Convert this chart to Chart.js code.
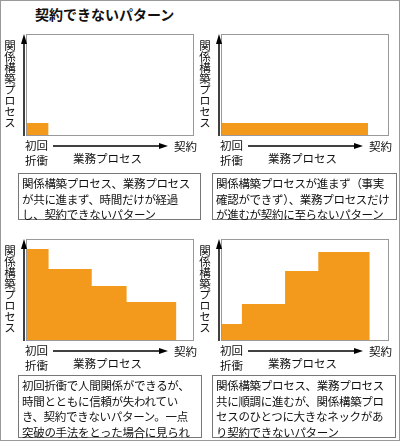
<!DOCTYPE html><html><head><meta charset="utf-8">
<script src="https://cdn.jsdelivr.net/npm/chart.js"></script>
<style>
body{margin:0;background:#fff;font-family:"Noto Sans CJK JP",sans-serif;color:#111}
#frame{position:absolute;left:0;top:0;width:398px;height:439px;border:1px solid #999}
.a{position:absolute}
.plot{position:absolute;border:1px solid #999;box-sizing:border-box}
.vt{position:absolute;writing-mode:vertical-rl;font-size:11.5px;line-height:14px;letter-spacing:-0.5px}
.box{position:absolute;border:1px solid #777;font-size:11.5px;line-height:15.5px;padding:2px 3px;box-sizing:border-box;letter-spacing:-0.3px}
</style></head><body>
<div id="frame"></div>
<div class="a" style="left:35px;top:4px;font-size:14px;font-weight:bold">契約できないパターン</div>
<div id="root"></div>
<script>
const xMax=100,yMax=100;
const steps1=[{x:0,y:12},{x:13,y:12}];
const steps2=[{x:0,y:12},{x:88,y:12}];
const steps3x=[0,13,39,60,90],steps3y=[91,71,54,38];
const steps4x=[0,12,38,58,89],steps4y=[16,36,69,88];
function build(xs,ys){const p=[];for(let i=0;i<ys.length;i++){p.push({x:xs[i],y:ys[i]});p.push({x:xs[i+1],y:ys[i]});}return p;}
const texts=["関係構築プロセス、業務プロセスが共に進まず、時間だけが経過し、契約できないパターン",
"関係構築プロセスが進まず（事実確認ができず）、業務プロセスだけが進むが契約に至らないパターン",
"初回折衝で人間関係ができるが、時間とともに信頼が失われていき、契約できないパターン。一点突破の手法をとった場合に見られる",
"関係構築プロセス、業務プロセス共に順調に進むが、関係構築プロセスのひとつに大きなネックがあり契約できないパターン"];
const panels=[
 {x:0,y:0,data:steps1,box:[18,173,183,47]},
 {x:195,y:0,data:steps2,box:[212,173,185,47]},
 {x:0,y:205,data:build(steps3x,steps3y),box:[18,375,184,63]},
 {x:195,y:205,data:build(steps4x,steps4y),box:[212,375,184,63]}];
const root=document.getElementById('root');
panels.forEach((p,i)=>{
 const ox=p.x,oy=p.y;
 let h=`<div class="plot" style="left:${ox+26}px;top:${oy+34}px;width:168px;height:102px"><canvas id="c${i}"></canvas></div>
 <svg class="a" style="left:${ox}px;top:${oy}px" width="200" height="170">
  <line x1="24" y1="44" x2="24" y2="136" stroke="#000" stroke-width="1.5"/>
  <polygon points="24,34 21,44 27,44" fill="#000"/>
  <line x1="53" y1="146" x2="160" y2="146" stroke="#000" stroke-width="1.5"/>
  <polygon points="168,146 159,143 159,149" fill="#000"/></svg>
 <div class="vt" style="left:${ox+3}px;top:${oy+40}px">関係構築プロセス</div>
 <div class="a" style="left:${ox+25}px;top:${oy+138}px;font-size:11.5px;line-height:15px">初回<br>折衝</div>
 <div class="a" style="left:${ox+174}px;top:${oy+138}px;font-size:11.5px">契約</div>
 <div class="a" style="left:${ox+73}px;top:${oy+150}px;font-size:11.5px">業務プロセス</div>
 <div class="box" style="left:${p.box[0]}px;top:${p.box[1]}px;width:${p.box[2]}px;height:${p.box[3]}px">${texts[i]}</div>`;
 root.insertAdjacentHTML('beforeend',h);
});
panels.forEach((p,i)=>{
 new Chart(document.getElementById('c'+i),{type:'line',
  data:{datasets:[{data:p.data,fill:'origin',backgroundColor:'#f39a1c',borderWidth:0,pointRadius:0,tension:0}]},
  options:{responsive:true,maintainAspectRatio:false,animation:false,
   plugins:{legend:{display:false},tooltip:{enabled:false}},
   layout:{padding:0},
   scales:{x:{type:'linear',min:0,max:xMax,display:false},y:{min:0,max:yMax,display:false}}}});
});
</script></body></html>
